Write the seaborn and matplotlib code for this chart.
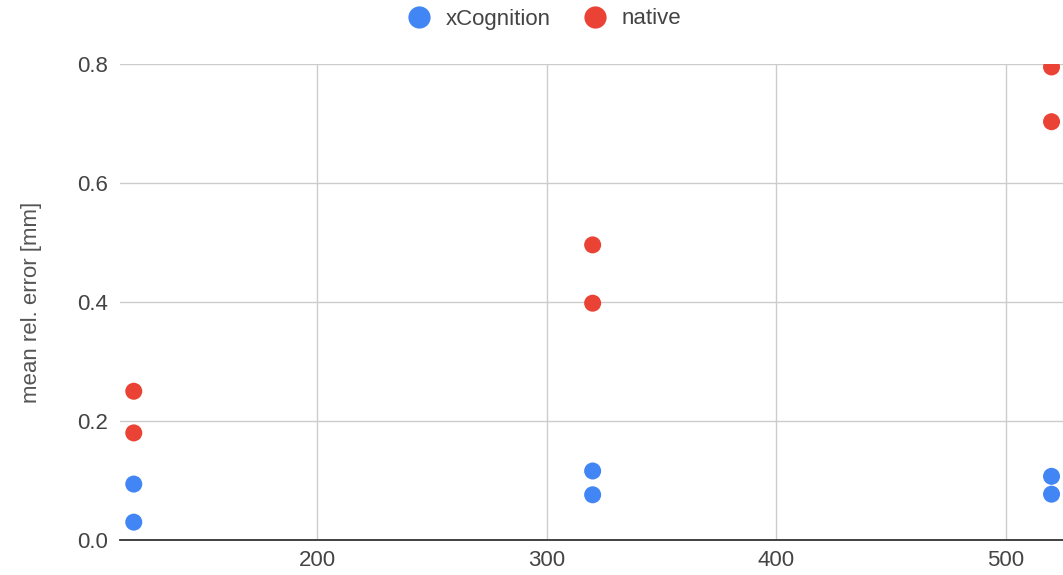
import numpy as np
import pandas as pd
import matplotlib
matplotlib.use("Agg")
import matplotlib.pyplot as plt
import seaborn as sns
from matplotlib.lines import Line2D

# Data
series_names = ["xCognition", "native"]
x_values = [120, 120, 320, 320, 520, 520]
xcognition_values = [0.094, 0.030, 0.116, 0.076, 0.107, 0.077]
native_values = [0.250, 0.180, 0.496, 0.398, 0.795, 0.703]
x_ticks = [200, 300, 400, 500]
y_ticks = [0.0, 0.2, 0.4, 0.6, 0.8]
y_label = "mean rel. error [mm]"

colors = {"xCognition": "#4285F4", "native": "#EA4335"}

df = pd.DataFrame({
    "x": x_values + x_values,
    "y": xcognition_values + native_values,
    "series": [series_names[0]] * len(x_values) + [series_names[1]] * len(x_values),
})

sns.set_theme(style="white")
plt.rcParams['font.family'] = ['Liberation Sans', 'DejaVu Sans']

fig = plt.figure(figsize=(10.63, 5.75), dpi=100)
ax = fig.add_axes([120 / 1063, 35 / 575, 943 / 1063, 476 / 575])

sns.scatterplot(data=df, x="x", y="y", hue="series", palette=colors,
                s=150, linewidth=0, ax=ax, legend=False, zorder=3, clip_on=True)

ax.set_xlim(114, 525)
ax.set_ylim(0, 0.8)
ax.set_xticks(x_ticks)
ax.set_yticks(y_ticks)
ax.set_yticklabels([f"{v:.1f}" for v in y_ticks])
ax.grid(True, color="#cccccc", linewidth=1.0, zorder=0)
ax.set_axisbelow(True)
for side in ["top", "right", "left"]:
    ax.spines[side].set_visible(False)
ax.spines["bottom"].set_color("#333333")
ax.spines["bottom"].set_linewidth(1.3)
ax.spines["bottom"].set_zorder(2)
ax.tick_params(axis="both", length=0, labelsize=16, colors="#444444")
ax.tick_params(axis="y", pad=9)
ax.tick_params(axis="x", pad=7)
ax.set_xlabel("")
ax.set_ylabel(y_label, fontsize=16, color="#555555", labelpad=25)

handles = [Line2D([0], [0], marker="o", linestyle="", markersize=16,
                  markerfacecolor=colors[n], markeredgewidth=0) for n in series_names]
fig.legend(handles, series_names, loc="center", bbox_to_anchor=(0.507, 1 - 19 / 575),
           ncol=2, frameon=False, fontsize=16, handletextpad=0.2, columnspacing=1.0,
           labelcolor="#444444")

fig.savefig("out.png", dpi=100)
